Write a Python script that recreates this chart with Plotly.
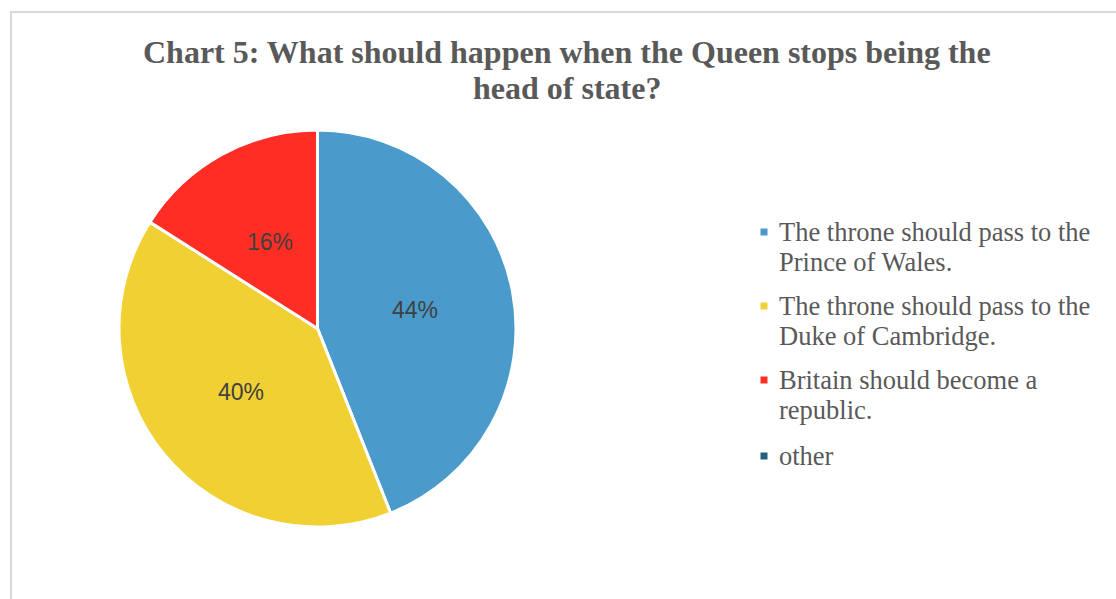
import math
import plotly.graph_objects as go

# Survey answers and their shares (%)
categories = [
    "The throne should pass to the Prince of Wales.",
    "The throne should pass to the Duke of Cambridge.",
    "Britain should become a republic.",
    "other",
]
legend_lines = [
    ["The throne should pass to the", "Prince of Wales."],
    ["The throne should pass to the", "Duke of Cambridge."],
    ["Britain should become a", "republic."],
    ["other"],
]
values = [44, 40, 16, 0]
colors = ["#4A9BCB", "#F0D032", "#FF2D24", "#255E80"]

W, H = 1116, 599
title_lines = [
    "Chart 5: What should happen when the Queen stops being the",
    "head of state?",
]

# Pie placement in pixels
cx, cy, R = 317.5, 328.5, 198.5
dom_x = [(cx - R) / W, (cx + R) / W]
dom_y = [1 - (cy + R) / H, 1 - (cy - R) / H]

fig = go.Figure()
fig.add_trace(go.Pie(
    labels=categories,
    values=values,
    sort=False,
    direction="clockwise",
    rotation=0,
    marker=dict(colors=colors, line=dict(color="white", width=3)),
    textinfo="none",
    hoverinfo="label+percent",
    showlegend=False,
    domain=dict(x=dom_x, y=dom_y),
))

annotations = []
shapes = []

# Title, one annotation per line
for i, ln in enumerate(title_lines):
    annotations.append(dict(
        x=567 / W, y=1 - (52 + i * 36) / H, xref="paper", yref="paper",
        text=f"<b>{ln}</b>", showarrow=False,
        font=dict(family="Liberation Serif, Times New Roman", size=32, color="#595959"),
        xanchor="center", yanchor="middle",
    ))

# Percentage labels at half radius along each slice's mid-angle
total = sum(values)
cum = 0.0
for v in values:
    if v > 0:
        mid = (cum + v / 2) / total * 2 * math.pi
        px = cx + 0.5 * R * math.sin(mid)
        py = cy - 0.5 * R * math.cos(mid)
        annotations.append(dict(
            x=px / W, y=1 - py / H, xref="paper", yref="paper",
            text=f"{round(v / total * 100)}%", showarrow=False,
            font=dict(family="Liberation Sans, Arial", size=23, color="#404040"),
            xanchor="center", yanchor="middle",
        ))
    cum += v

# Legend: square swatches with wrapped serif labels
leg_x_marker = 764
leg_x_text = 777
item_tops = [232, 306, 380, 456]
line_gap = 30
for lines, col, ytop in zip(legend_lines, colors, item_tops):
    shapes.append(dict(
        type="rect", xref="paper", yref="paper",
        x0=(leg_x_marker - 3.5) / W, x1=(leg_x_marker + 3.5) / W,
        y0=1 - (ytop + 3.5) / H, y1=1 - (ytop - 3.5) / H,
        fillcolor=col, line=dict(width=0),
    ))
    for i, ln in enumerate(lines):
        annotations.append(dict(
            x=leg_x_text / W, y=1 - (ytop + i * line_gap) / H,
            xref="paper", yref="paper", text=ln, showarrow=False,
            font=dict(family="Liberation Serif, Times New Roman", size=26.5, color="#595959"),
            xanchor="left", yanchor="middle",
        ))

# Chart frame (top and left edges visible in the view)
shapes.append(dict(
    type="rect", xref="paper", yref="paper",
    x0=11 / W, x1=(W + 20) / W, y0=1 - (H + 20) / H, y1=1 - 12 / H,
    line=dict(color="#D9D9D9", width=2), fillcolor="rgba(0,0,0,0)",
    layer="below",
))

fig.update_layout(
    width=W, height=H,
    margin=dict(l=0, r=0, t=0, b=0),
    paper_bgcolor="white",
    plot_bgcolor="white",
    annotations=annotations,
    shapes=shapes,
)

fig.write_html("out.html")
